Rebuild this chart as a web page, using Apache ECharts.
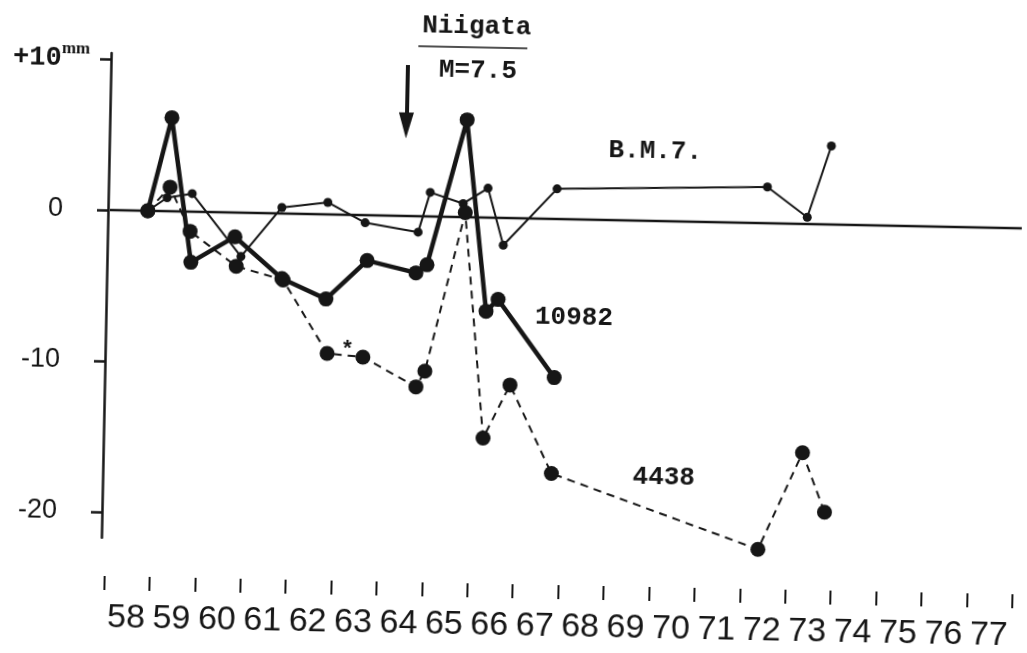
<!DOCTYPE html>
<html><head><meta charset="utf-8">
<script src="https://cdn.jsdelivr.net/npm/echarts@6/dist/echarts.min.js"></script>
<style>
html,body{margin:0;padding:0;background:#fff;overflow:hidden;width:1027px;height:653px}
#c{width:1027px;height:653px;transform:rotate(1.15deg);transform-origin:108px 210px;}
</style></head><body><div id="c"></div>
<script>
// ---- data (fractional years since 1900, displacement in mm) ----
const yearLabels = ['58','59','60','61','62','63','64','65','66','67','68','69','70','71','72','73','74','75','76','77'];
const yTicks = [-20, -10, 0, 10];

const bm7Years  = [58.80, 59.22, 59.77, 60.87, 61.75, 62.76, 63.59, 64.76, 65.01, 65.74, 66.28, 66.64, 67.80, 72.43, 73.32, 73.82];
const bm7Values = [0, 0.9, 1.2, -2.9, 0.4, 0.8, -0.5, -1.05, 1.6, 0.9, 1.95, -1.8, 2.0, 2.4, 0.45, 5.2];

const s10982Years  = [58.80, 59.29, 59.77, 60.73, 61.78, 62.76, 63.65, 64.73, 64.97, 65.79, 66.29, 66.55, 67.82];
const s10982Values = [0, 6.2, -3.35, -1.6, -4.3, -5.6, -3.0, -3.75, -3.2, 6.45, -6.2, -5.4, -10.5];

const s4438Years  = [58.80, 59.28, 59.74, 60.77, 61.81, 62.81, 63.60, 64.78, 64.97, 65.79, 66.28, 66.85, 67.80, 72.38, 73.32, 73.83];
const s4438Values = [0, 1.6, -1.3, -3.55, -4.4, -9.2, -9.4, -11.3, -10.25, 0.3, -14.6, -11.05, -16.85, -21.6, -15.15, -19.05];

const zeroLineYears = [57.75, 79];
const quakeYear = 64.45;          // Niigata earthquake, June 1964
const quakeArrow = [10, 6.0];     // arrow from / to (mm)

// ---- chart ----
const pair = (xs, ys) => xs.map((x, i) => [x, ys[i]]);
const ink = '#161616';
const mono = "'Liberation Mono', 'DejaVu Sans Mono', monospace";

const chart = echarts.init(document.getElementById('c'), null, {renderer: 'canvas'});
chart.setOption({
  animation: false,
  backgroundColor: '#ffffff',
  grid: [
    {left: 111.5, right: 7.2, top: 53, bottom: 115.3},
    {left: 111.5, right: 7.2, top: 575, height: 1}
  ],
  xAxis: [
    {type: 'value', gridIndex: 0, min: 58, max: 78, show: false},
    {type: 'category', gridIndex: 1, data: yearLabels, boundaryGap: true,
     axisLine: {show: false},
     axisTick: {show: true, length: 14, interval: 0, lineStyle: {color: ink, width: 2}},
     axisLabel: {margin: 25, interval: 0, hideOverlap: false, color: ink, fontSize: 34,
       fontFamily: "'Liberation Sans', 'Noto Sans', sans-serif"}}
  ],
  yAxis: [
    {type: 'value', gridIndex: 0, min: -21.7, max: 10.4, offset: 3.5,
     splitLine: {show: false},
     axisLine: {show: true, onZero: false, lineStyle: {color: ink, width: 2.5}},
     axisTick: {show: true, length: 11, customValues: yTicks, lineStyle: {color: ink, width: 2.5}},
     axisLabel: {customValues: yTicks, margin: 21, color: ink,
       formatter: v => v === 10 ? '{p|+10}{u|mm}' : '{n|' + (v < 0 ? '-' + (-v) : v) + '}',
       rich: {
         p: {fontFamily: mono, fontSize: 27, color: ink, fontWeight: 'bold'},
         u: {fontFamily: "'Liberation Serif', serif", fontSize: 17, fontWeight: 'bold', color: ink, padding: [0, 0, 18, 0]},
         n: {fontFamily: "'Liberation Sans', sans-serif", fontSize: 27, color: ink, padding: [0, 24, 0, 0]}
       }}},
    {type: 'value', gridIndex: 1, show: false}
  ],
  series: [
    {name: 'zero', type: 'line', xAxisIndex: 0, yAxisIndex: 0, clip: false, silent: true,
     data: pair(zeroLineYears, [0, 0]), symbol: 'none',
     lineStyle: {color: ink, width: 2.5},
     markLine: {silent: true, symbol: ['none', 'triangle'], symbolSize: [15, 26],
       lineStyle: {color: ink, width: 4, type: 'solid'}, label: {show: false},
       data: [[{coord: [quakeYear, quakeArrow[0]]}, {coord: [quakeYear, quakeArrow[1]]}]]}},
    {name: 'B.M.7.', type: 'line', clip: false, data: pair(bm7Years, bm7Values),
     symbol: 'circle', symbolSize: 9, lineStyle: {color: ink, width: 2}, itemStyle: {color: ink}},
    {name: '4438', type: 'line', clip: false, data: pair(s4438Years, s4438Values),
     symbol: 'circle', symbolSize: 15, lineStyle: {color: ink, width: 2, type: [8, 6]}, itemStyle: {color: ink}},
    {name: '10982', type: 'line', clip: false, data: pair(s10982Years, s10982Values),
     symbol: 'circle', symbolSize: 15, lineStyle: {color: ink, width: 4.5}, itemStyle: {color: ink}}
  ],
  graphic: [
    {type: 'text', style: {x: 473, y: 19, text: 'Niigata', font: "bold 26px " + mono, fill: ink, align: 'center', verticalAlign: 'middle'}},
    {type: 'line', shape: {x1: 415, y1: 40, x2: 524, y2: 40}, style: {stroke: ink, lineWidth: 1.5}},
    {type: 'text', style: {x: 475, y: 63, text: 'M=7.5', font: "bold 26px " + mono, fill: ink, align: 'center', verticalAlign: 'middle'}},
    {type: 'text', style: {x: 654, y: 140, text: 'B.M.7.', font: "bold 26px " + mono, fill: ink, align: 'center', verticalAlign: 'middle'}},
    {type: 'text', style: {x: 576, y: 308, text: '10982', font: "bold 26px " + mono, fill: ink, align: 'center', verticalAlign: 'middle'}},
    {type: 'text', style: {x: 669, y: 466, text: '4438', font: "bold 26px " + mono, fill: ink, align: 'center', verticalAlign: 'middle'}},
    {type: 'text', style: {x: 350, y: 345, text: '*', font: "bold 22px " + mono, fill: ink, align: 'center', verticalAlign: 'middle'}}
  ]
});
</script></body></html>
